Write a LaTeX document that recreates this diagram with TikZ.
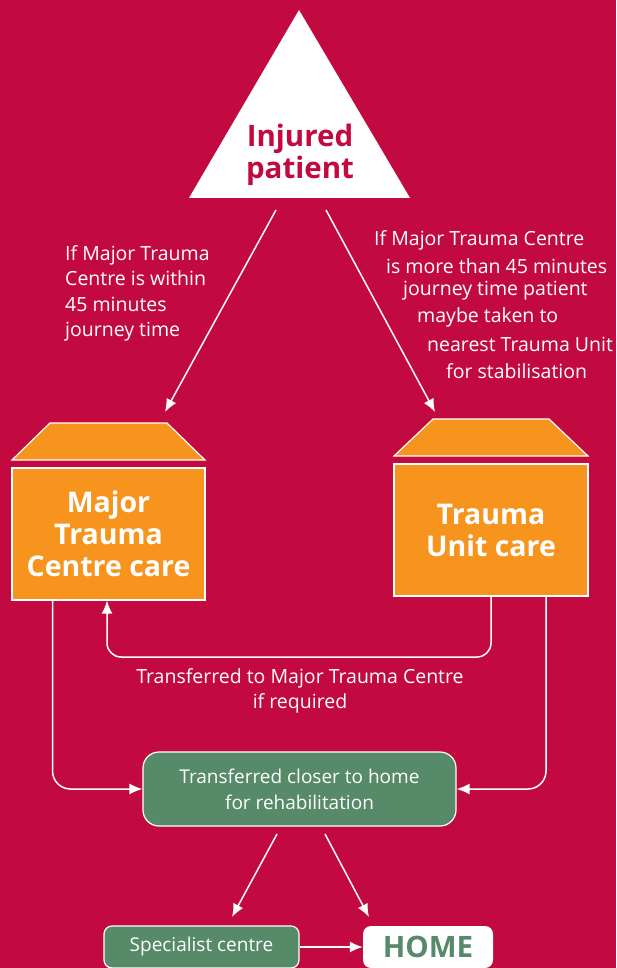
\documentclass[tikz,border=0pt]{standalone}
\usepackage{fontspec}
\setmainfont{Open Sans}
\usetikzlibrary{arrows.meta,calc}
\definecolor{bgred}{HTML}{C30A40}
\definecolor{orangebox}{HTML}{F7941D}
\definecolor{greenbox}{HTML}{568A68}
\tikzset{
  arr/.style={draw=white, line width=1.5pt, -{Latex[length=13pt,width=11pt]}},
  housebox/.style={fill=orangebox, draw=white, line width=1.2pt, text=white, align=center,
    font=\fontsize{28.5}{32}\selectfont\bfseries, inner sep=0pt},
  roof/.style={fill=orangebox, draw=white, line width=1.2pt},
  greenrect/.style={fill=greenbox, draw=white, line width=1.2pt, text=white, align=center,
    font=\fontsize{19}{26}\selectfont, inner sep=0pt},
  lbl/.style={text=white, font=\fontsize{19.5}{25.5}\selectfont, inner sep=0pt},
}
\begin{document}
\begin{tikzpicture}[x=1pt,y=-1pt]
\useasboundingbox (0,0) rectangle (616,968);
\fill[bgred] (0,0) rectangle (616,968);
% triangle
\fill[white] (299,10) -- (410,198) -- (189,198) -- cycle;
\node[text=bgred, font=\fontsize{29.5}{32}\selectfont\bfseries, align=center, inner sep=0pt] (tri) at (300,155) {Injured\\patient};
% houses
\path[roof] (50,423) -- (167,423) -- (205,460) -- (12,460) -- cycle;
\node[housebox, minimum width=193pt, minimum height=132pt] (mtc) at (108.5,534) {Major\\Trauma\\Centre care};
\path[roof] (433,419) -- (549,419) -- (588,456) -- (394,456) -- cycle;
\node[housebox, minimum width=194pt, minimum height=132pt] (tu) at (491,530) {Trauma\\Unit care};
% green boxes
\node[greenrect, rounded corners=16pt, minimum width=313pt, minimum height=74pt] (rh) at (299.5,789) {Transferred closer to home\\for rehabilitation};
\node[greenrect, rounded corners=8pt, minimum width=195pt, minimum height=42pt] (spec) at (201.5,947) {Specialist centre};
\node[fill=white, rounded corners=8pt, minimum width=130pt, minimum height=42pt, text=greenbox, font=\fontsize{29.5}{30}\selectfont\bfseries, inner sep=0pt] (home) at (428,947) {HOME};
% labels
\node[lbl, anchor=north west, align=left] (l1) at (65,245) {If Major Trauma\\Centre is within\\45 minutes\\journey time};
\node[lbl, anchor=west] (r1) at (374,240) {If Major Trauma Centre};
\node[lbl, anchor=west] (r2) at (386,266) {is more than 45 minutes};
\node[lbl, anchor=west] (r3) at (403,291) {journey time patient};
\node[lbl, anchor=west] (r4) at (417,317) {maybe taken to};
\node[lbl, anchor=west] (r5) at (427,344) {nearest Trauma Unit};
\node[lbl, anchor=west] (r6) at (446,371) {for stabilisation};
\node[lbl, align=center] (tl) at (300,691) {Transferred to Major Trauma Centre\\if required};
% connectors
\coordinate (a1) at (276,210); \coordinate (a1e) at (165,412);
\coordinate (a2) at (326,210); \coordinate (a2e) at (435,412);
\draw[arr] (a1) -- (a1e);
\draw[arr] (a2) -- (a2e);
\draw[arr, rounded corners=14pt] (tu.south) -- (tu.south |- 0,657) -| ([xshift=-1.5pt]mtc.south);
\draw[arr, rounded corners=18pt] ([xshift=55pt]tu.south) |- (rh.east);
\draw[arr, rounded corners=18pt] ([xshift=-56pt]mtc.south) |- (rh.west);
\coordinate (b1) at (277,834); \coordinate (b1e) at (232,917);
\coordinate (b2) at (325,834); \coordinate (b2e) at (369,917);
\draw[arr] (b1) -- (b1e);
\draw[arr] (b2) -- (b2e);
\draw[arr] (spec.east) -- (home.west);
\end{tikzpicture}
\end{document}
